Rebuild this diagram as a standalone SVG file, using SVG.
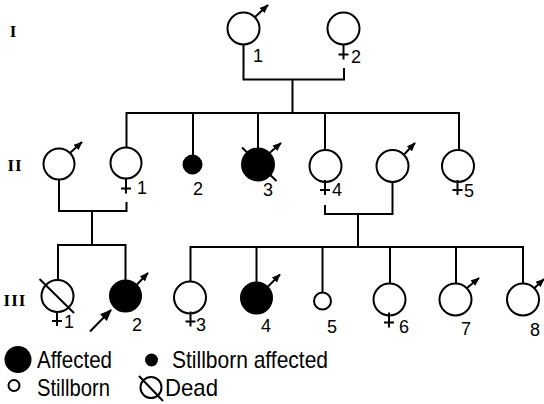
<svg xmlns="http://www.w3.org/2000/svg" width="544" height="404" viewBox="0 0 544 404">
  <style>
    .sym { fill: #fff; stroke: #000; stroke-width: 2; }
    .aff { fill: #000; stroke: #000; stroke-width: 2; }
    .ln { fill: none; stroke: #000; stroke-width: 2; stroke-linecap: butt; stroke-linejoin: miter; }
    .arr { fill: none; stroke: #000; stroke-width: 2; marker-end: url(#head); }
    .num { font-family: "Liberation Sans", Arial, sans-serif; font-size: 18px; fill: #000; }
    .gen { font-family: "Liberation Serif", "Times New Roman", serif; font-size: 17px; font-weight: bold; fill: #000; letter-spacing: 1px; }
    .leg { font-family: "Liberation Sans", Arial, sans-serif; font-size: 24px; fill: #000; }
  </style>
  <defs>
    <marker id="head" viewBox="0 0 10 8" markerUnits="userSpaceOnUse" markerWidth="9" markerHeight="7.5" refX="9" refY="4" orient="auto">
      <path d="M0,0 L10,4 L0,8 Z" fill="#000"/>
    </marker>
    <marker id="prob" viewBox="0 0 10 8" markerUnits="userSpaceOnUse" markerWidth="12" markerHeight="10" refX="9" refY="4" orient="auto">
      <path d="M0,0 L10,4 L0,8 Z" fill="#000"/>
    </marker>
    <!-- female sign: stem and bar under the circle -->
    <path id="venus" class="ln" d="M0,0 V15 M-5,10 H5"/>
  </defs>

  <!-- generation numerals -->
  <g id="gen-labels">
    <text class="gen" x="13.5" y="37" text-anchor="middle">I</text>
    <text class="gen" x="15" y="171" text-anchor="middle">II</text>
    <text class="gen" x="15" y="305.5" text-anchor="middle">III</text>
  </g>

  <!-- lines of descent -->
  <g id="connectors">
    <path class="ln" d="M243.5,44.5 V79.5 H344 V68"/>
    <path class="ln" d="M292.5,79.5 V113"/>
    <path class="ln" d="M126.5,147.5 V113 H459 V150"/>
    <path class="ln" d="M193,113 V155"/>
    <path class="ln" d="M258,113 V148"/>
    <path class="ln" d="M325,113 V150"/>
    <path class="ln" d="M59,179.5 V211 H126.5 V202"/>
    <path class="ln" d="M92,211 V245"/>
    <path class="ln" d="M325,205 V214 H392.5 V182"/>
    <path class="ln" d="M358,214 V247"/>
    <path class="ln" d="M58,280 V245 H125.5 V280"/>
    <path class="ln" d="M190.5,281.5 V247 H523 V283"/>
    <path class="ln" d="M256.5,247 V282"/>
    <path class="ln" d="M322.5,247 V292"/>
    <path class="ln" d="M390,247 V283"/>
    <path class="ln" d="M456,247 V283"/>
  </g>

  <!-- generation I -->
  <g id="I-1">
    <circle class="sym" cx="243.5" cy="28.5" r="16"/>
    <line class="arr" x1="255" y1="17" x2="268" y2="5"/>
    <text class="num" x="253" y="62">1</text>
  </g>
  <g id="I-2">
    <circle class="sym" cx="343.5" cy="28.5" r="16"/>
    <use href="#venus" x="343.5" y="44.5"/>
    <text class="num" x="351" y="63">2</text>
  </g>

  <!-- generation II -->
  <g id="II-spouse-1">
    <circle class="sym" cx="59" cy="164" r="15.5"/>
    <line class="arr" x1="70" y1="153" x2="82" y2="142"/>
  </g>
  <g id="II-1">
    <circle class="sym" cx="126" cy="163" r="15.5"/>
    <use href="#venus" x="126" y="178.5"/>
    <text class="num" x="137" y="194">1</text>
  </g>
  <g id="II-2">
    <circle class="aff" cx="192.5" cy="164.5" r="9"/>
    <text class="num" x="193" y="195">2</text>
  </g>
  <g id="II-3">
    <circle class="aff" cx="258" cy="164.5" r="16"/>
    <line class="ln" x1="242" y1="147.5" x2="276.5" y2="181"/>
    <line class="arr" x1="269.5" y1="153" x2="281" y2="143"/>
    <text class="num" x="263" y="196">3</text>
  </g>
  <g id="II-4">
    <circle class="sym" cx="325.5" cy="166" r="16"/>
    <use href="#venus" x="325" y="180"/>
    <text class="num" x="332" y="196">4</text>
  </g>
  <g id="II-spouse-2">
    <circle class="sym" cx="392.5" cy="166" r="16"/>
    <line class="arr" x1="404" y1="154.5" x2="415" y2="143"/>
  </g>
  <g id="II-5">
    <circle class="sym" cx="458" cy="166" r="16"/>
    <use href="#venus" x="457.5" y="180"/>
    <text class="num" x="464" y="197">5</text>
  </g>

  <!-- generation III -->
  <g id="III-1">
    <circle class="sym" cx="57.5" cy="296" r="16"/>
    <line class="ln" x1="39.5" y1="279" x2="74" y2="313"/>
    <use href="#venus" x="57" y="311"/>
    <text class="num" x="64" y="328">1</text>
  </g>
  <g id="III-2">
    <circle class="aff" cx="125.5" cy="296" r="15.5"/>
    <line class="arr" x1="137" y1="284.5" x2="148" y2="273"/>
    <line class="ln" x1="90" y1="331.5" x2="111" y2="310" marker-end="url(#prob)"/>
    <text class="num" x="132" y="331">2</text>
  </g>
  <g id="III-3">
    <circle class="sym" cx="190" cy="297.5" r="16"/>
    <use href="#venus" x="190.5" y="311.5"/>
    <text class="num" x="196" y="331">3</text>
  </g>
  <g id="III-4">
    <circle class="aff" cx="256.5" cy="298" r="15.5"/>
    <line class="arr" x1="268" y1="286.5" x2="280" y2="274.5"/>
    <text class="num" x="261" y="332">4</text>
  </g>
  <g id="III-5">
    <circle class="sym" cx="322.5" cy="301" r="8.5"/>
    <text class="num" x="327" y="333">5</text>
  </g>
  <g id="III-6">
    <circle class="sym" cx="389.5" cy="299.5" r="16"/>
    <use href="#venus" x="389" y="312.5"/>
    <text class="num" x="399" y="333">6</text>
  </g>
  <g id="III-7">
    <circle class="sym" cx="455.5" cy="299.5" r="16"/>
    <line class="arr" x1="467" y1="288" x2="479" y2="278"/>
    <text class="num" x="461" y="335">7</text>
  </g>
  <g id="III-8">
    <circle class="sym" cx="523" cy="299.5" r="16"/>
    <line class="arr" x1="534.5" y1="288" x2="544" y2="279"/>
    <text class="num" x="530" y="336">8</text>
  </g>

  <!-- key -->
  <g id="legend">
    <circle cx="18" cy="359.5" r="13.5" fill="#000"/>
    <text class="leg" x="37" y="367.5" textLength="75" lengthAdjust="spacingAndGlyphs">Affected</text>
    <circle cx="151.5" cy="360" r="6.5" fill="#000"/>
    <text class="leg" x="172" y="367.5" textLength="156" lengthAdjust="spacingAndGlyphs">Stillborn affected</text>
    <circle cx="14" cy="385.5" r="5.5" fill="#fff" stroke="#000" stroke-width="2"/>
    <text class="leg" x="37" y="396" textLength="73" lengthAdjust="spacingAndGlyphs">Stillborn</text>
    <circle cx="151" cy="387.5" r="10.5" fill="#fff" stroke="#000" stroke-width="2"/>
    <line x1="139" y1="376" x2="163" y2="401" stroke="#000" stroke-width="2"/>
    <text class="leg" x="165" y="396" textLength="53" lengthAdjust="spacingAndGlyphs">Dead</text>
  </g>
</svg>
